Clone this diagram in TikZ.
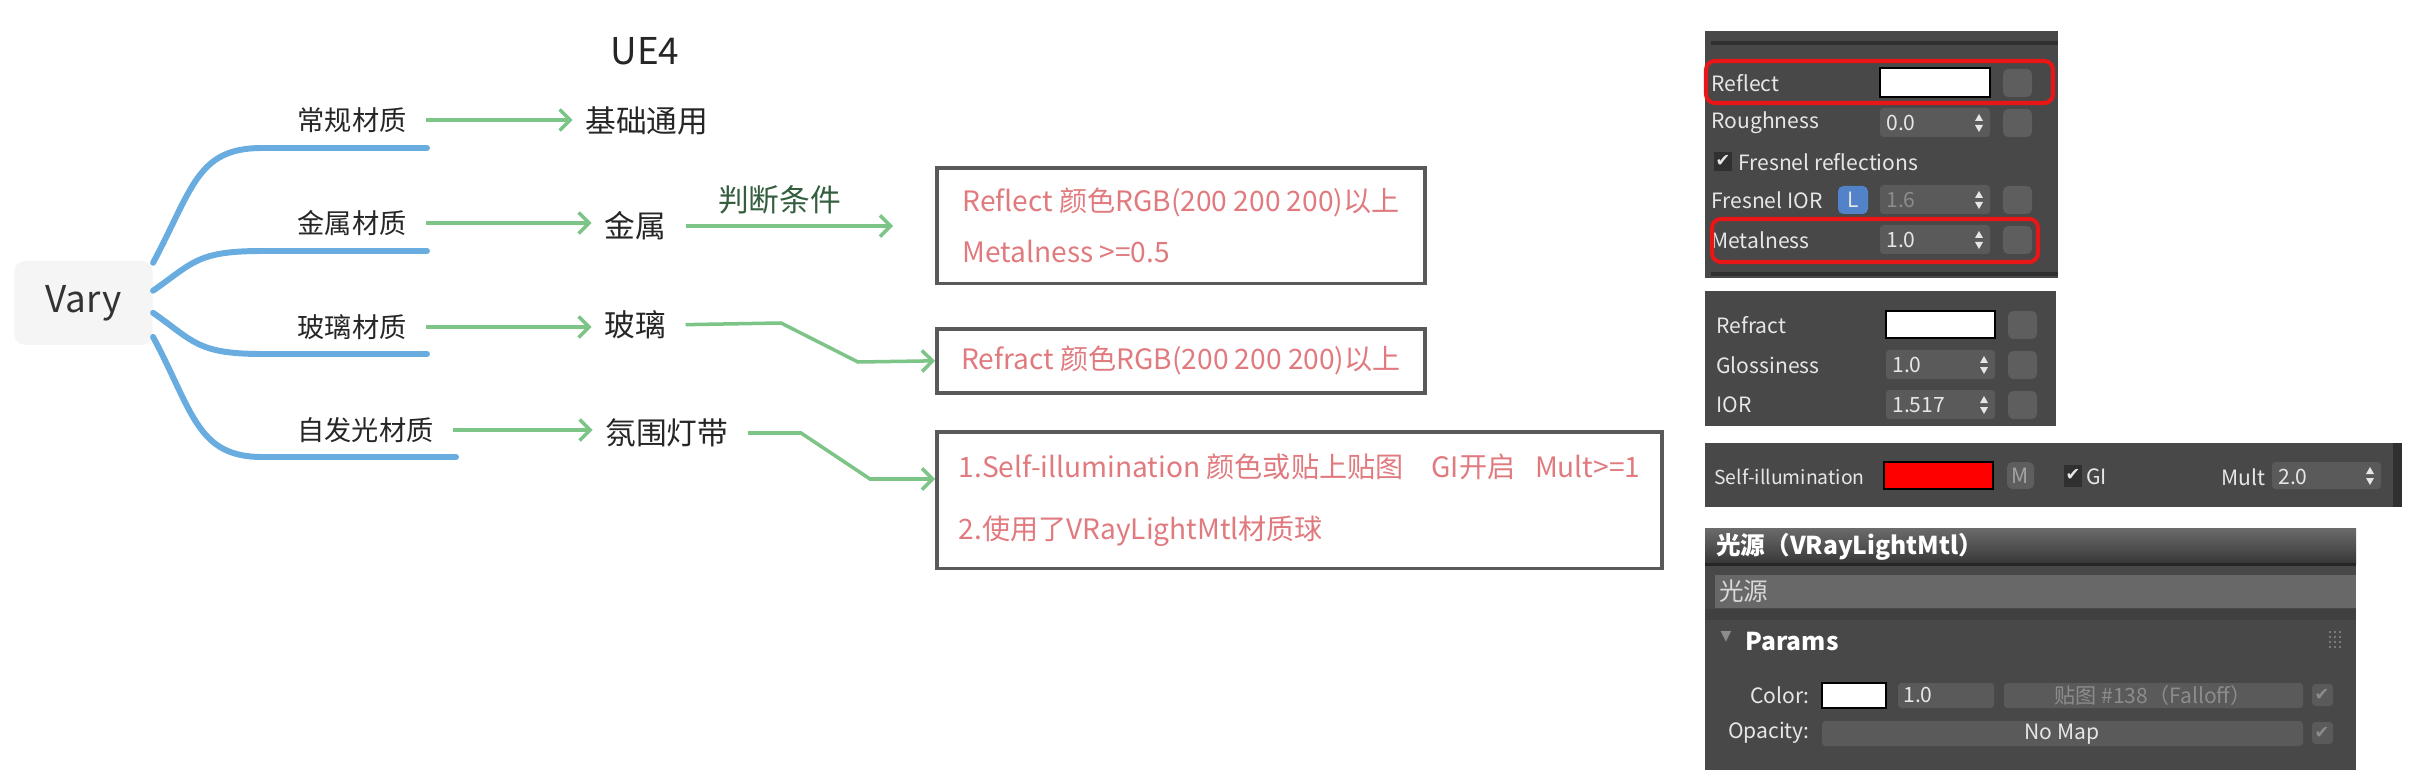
\documentclass[tikz,border=0pt]{standalone}
\usepackage{fontspec}
\setmainfont{Noto Sans CJK SC}
\newfontfamily\symfont{DejaVu Sans}
\usepackage{tikz}
\usetikzlibrary{positioning,calc,arrows.meta}

\definecolor{branchblue}{RGB}{104,172,224}
\definecolor{arrowgreen}{RGB}{125,196,135}
\definecolor{condgreen}{RGB}{52,94,62}
\definecolor{notered}{RGB}{224,122,126}
\definecolor{boxgray}{RGB}{89,89,89}
\definecolor{rootfill}{RGB}{245,245,245}
\definecolor{panelbg}{RGB}{72,72,72}
\definecolor{fieldbg}{RGB}{90,90,90}
\definecolor{namebg}{RGB}{104,104,104}
\definecolor{btnbg}{RGB}{94,94,94}
\definecolor{barbg}{RGB}{48,48,48}
\definecolor{uitext}{RGB}{230,230,230}
\definecolor{uidim}{RGB}{140,140,140}
\definecolor{framered}{RGB}{232,22,22}
\definecolor{lblue}{RGB}{82,130,200}

\begin{document}
\begin{tikzpicture}[x=0.02cm,y=-0.02cm,
    root/.style={rectangle,rounded corners=6pt,fill=rootfill,minimum width=78.8pt,minimum height=47.6pt,font=\fontsize{21}{25}\selectfont,text=black!80},
    topic/.style={inner sep=0pt,font=\fontsize{15.5}{18}\selectfont,text=black!85},
    leaf/.style={inner sep=0pt,font=\fontsize{17.5}{20}\selectfont,text=black!85},
    branch/.style={draw=branchblue,line width=3.4pt,line cap=round},
    link/.style={draw=arrowgreen,line width=2pt,-{Straight Barb[length=6pt,width=12pt]},shorten <=11pt,shorten >=7pt},
    note/.style={draw=boxgray,line width=2.2pt,anchor=north west,align=left,inner sep=0pt,text=notered,font=\fontsize{16}{19}\selectfont},
    ui/.style={inner sep=0pt,text=uitext,font=\fontsize{12}{14}\selectfont},
    uibold/.style={inner sep=0pt,text=white,font=\fontsize{14}{16}\selectfont\bfseries},
    field/.style={fill=fieldbg,rounded corners=2pt},
    button/.style={fill=btnbg,rounded corners=3pt},
    swatch/.style={draw=black,line width=0.8pt},
    redframe/.style={draw=framered,line width=2.3pt,rounded corners=5pt}]

\useasboundingbox (0,0) rectangle (2415,770);

% Racine et titre
\node[root] (vary) at (83.5,303) {Vary};
\node[font=\fontsize{21}{25}\selectfont,text=black!85] (ue) at (645,51) {UE4};

% Branches
\node[topic,anchor=east] (t1) at (407,120) {常规材质};
\node[topic,anchor=east] (t2) at (407,223) {金属材质};
\node[topic,anchor=east] (t3) at (407,327) {玻璃材质};
\node[topic,anchor=east] (t4) at (434,430) {自发光材质};

\foreach \i/\ang/\ky/\ex/\cy in {1/30/148/427/-75,2/10/251/427/-28,3/-8/354/427/28,4/-26/457/456/75} {
    \coordinate (k\i) at (262,\ky);
    \coordinate (e\i) at (\ex,\ky);
    \draw[branch] (vary.\ang) .. controls +(40,\cy) and +(-65,0) .. (k\i) -- (e\i);
}

% Deuxieme colonne
\node[leaf,anchor=west] (n1) at (585,121) {基础通用};
\node[leaf,anchor=west] (n2) at (604,226) {金属};
\node[leaf,anchor=west] (n3) at (604,325) {玻璃};
\node[leaf,anchor=west] (n4) at (605,433) {氛围灯带};

\foreach \i in {1,...,4}
    \draw[link] (t\i.east) -- (t\i.east -| n\i.west);

% Conditions
\node[note,minimum width=277.8pt,minimum height=65.8pt] (b1) at (935,166)
    {Reflect 颜色RGB(200 200 200)以上\\[10pt]Metalness >=0.5};
\node[note,minimum width=277.8pt,minimum height=36.3pt] (b2) at (935,327)
    {Refract 颜色RGB(200 200 200)以上};
\node[note,minimum width=412.7pt,minimum height=77.7pt] (b3) at (935,430)
    {1.Self-illumination 颜色或贴上贴图\hspace{1em}GI开启\hspace{0.7em}Mult>=1\\[16.7pt]2.使用了VRayLightMtl材质球};

\coordinate (c2) at (893,226);
\draw[link,shorten >=0pt] (n2.east) -- node[above=6pt,inner sep=0pt,font=\fontsize{17.5}{20}\selectfont,text=condgreen] (cond) {判断条件} (c2);

\coordinate (g1) at (781,323);
\coordinate (g2) at (858,362);
\draw[link,shorten >=0pt] (n3.east) -- (g1) -- (g2) -- (b2.west);

\coordinate (g3) at (801,433);
\coordinate (g4) at (870,479);
\draw[link,shorten >=0pt] (n4.east) -- (g3) -- (g4) -- (g4 -| b3.west);

% Panneau Reflect
\fill[panelbg] (1705,31) rectangle (2058,278);
\fill[barbg] (1711,41) rectangle (2058,45);
\fill[barbg] (1711,272) rectangle (2058,276);
\foreach \lab/\yy in {Reflect/83,Roughness/123,Fresnel IOR/200,Metalness/240}
    \node[ui,anchor=west] (pr\yy) at (1711,\yy) {\lab};
\draw[swatch,fill=white] (1880,68) rectangle (1990,97);
\foreach \yy in {123,200,240}
    \fill[field] (1880,\yy-15) rectangle (1990,\yy+14);
\foreach \yy in {83,123,200,240}
    \fill[button] (2003,\yy-14) rectangle (2032,\yy+14);
\node[ui,anchor=west] (v123) at (1886,123) {0.0};
\node[ui,anchor=west,text=uidim] (v200) at (1886,200) {1.6};
\node[ui,anchor=west] (v240) at (1886,240) {1.0};
\fill[barbg] (1714,152) rectangle (1732,171);
\node[ui,font=\symfont\fontsize{10}{12}\selectfont] (ck1) at (1723,161) {✔};
\node[ui,anchor=west] (fres) at (1738,162) {Fresnel reflections};
\fill[lblue,rounded corners=3pt] (1838,186) rectangle (1868,214);
\node[ui] (lbox) at (1853,200) {L};
\draw[redframe] (1706,61) rectangle (2053,103);
\draw[redframe] (1712,219) rectangle (2038,262);

% Panneau Refract
\fill[panelbg] (1705,291) rectangle (2056,426);
\foreach \lab/\yy in {Refract/325,Glossiness/365,IOR/405}
    \node[ui,anchor=west] (pf\yy) at (1716,\yy) {\lab};
\draw[swatch,fill=white] (1886,311) rectangle (1995,338);
\foreach \yy in {365,405}
    \fill[field] (1886,\yy-15) rectangle (1995,\yy+14);
\foreach \yy in {325,365,405}
    \fill[button] (2008,\yy-14) rectangle (2037,\yy+14);
\node[ui,anchor=west] (v365) at (1892,365) {1.0};
\node[ui,anchor=west] (v405) at (1892,405) {1.517};

% Panneau Self-illumination
\fill[panelbg] (1705,443) rectangle (2402,507);
\fill[barbg] (2393,443) rectangle (2402,507);
\node[ui,anchor=west,font=\fontsize{11}{13}\selectfont] (self) at (1714,477) {Self-illumination};
\draw[swatch,fill=red] (1884,462) rectangle (1993,489);
\fill[button] (2007,462) rectangle (2034,489);
\node[ui,text=uidim!80!white] (mbtn) at (2020,476) {M};
\fill[barbg] (2064,465) rectangle (2082,487);
\node[ui,font=\symfont\fontsize{10}{12}\selectfont] (ck2) at (2073,475) {✔};
\node[ui,anchor=west] (gi) at (2086,477) {GI};
\node[ui,anchor=west] (mult) at (2221,477) {Mult};
\fill[field] (2272,462) rectangle (2381,489);
\node[ui,anchor=west] (v2) at (2278,477) {2.0};

% Petites fleches des champs
\foreach \sx/\sy in {1979/123,1979/200,1979/240,1984/365,1984/405,2370/476,1983/695} {
    \fill[uitext] (\sx-4,\sy-2) -- (\sx+4,\sy-2) -- (\sx,\sy-9) -- cycle;
    \fill[uitext] (\sx-4,\sy+2) -- (\sx+4,\sy+2) -- (\sx,\sy+9) -- cycle;
}

% Panneau VRayLightMtl
\fill[panelbg] (1705,528) rectangle (2356,770);
\shade[top color=black!58,bottom color=black!78] (1705,528) rectangle (2356,563);
\fill[black!85] (1705,563) rectangle (2356,566);
\node[uibold,anchor=west] (ttl) at (1716,547) {光源（VRayLightMtl）};
\fill[namebg] (1715,575) rectangle (2356,608);
\node[ui,anchor=west,text=black!15,font=\fontsize{14}{16}\selectfont] (nm) at (1719,591) {光源};
\fill[black!75] (1705,609) rectangle (2356,620);
\node[ui,text=uidim,font=\symfont\fontsize{8}{10}\selectfont] (tri) at (1726,637) {▼};
\node[uibold,anchor=west] (par) at (1745,642) {Params};
\foreach \gx in {0,1,2}
    \foreach \gy in {0,...,3}
        \fill[uidim] (2330+\gx*5,632+\gy*5) circle (0.6pt);
\node[ui,anchor=east] (col) at (1810,695) {Color:};
\draw[swatch,fill=white] (1822,683) rectangle (1886,708);
\fill[field] (1898,683) rectangle (1994,708);
\node[ui,anchor=west] (v1) at (1903,695) {1.0};
\fill[field] (2004,683) rectangle (2303,708);
\node[ui,text=uidim] (fall) at (2153,695) {贴图 \#138（Falloff）};
\node[ui,anchor=east] (opa) at (1810,733) {Opacity:};
\fill[field] (1822,721) rectangle (2303,746);
\node[ui] (nomap) at (2062,734) {No Map};
\foreach \yy in {695,733} {
    \fill[field] (2312,\yy-11) rectangle (2333,\yy+11);
    \node[ui,text=uidim,font=\symfont\fontsize{10}{12}\selectfont] (ck\yy) at (2322,\yy) {✔};
}

\end{tikzpicture}
\end{document}
